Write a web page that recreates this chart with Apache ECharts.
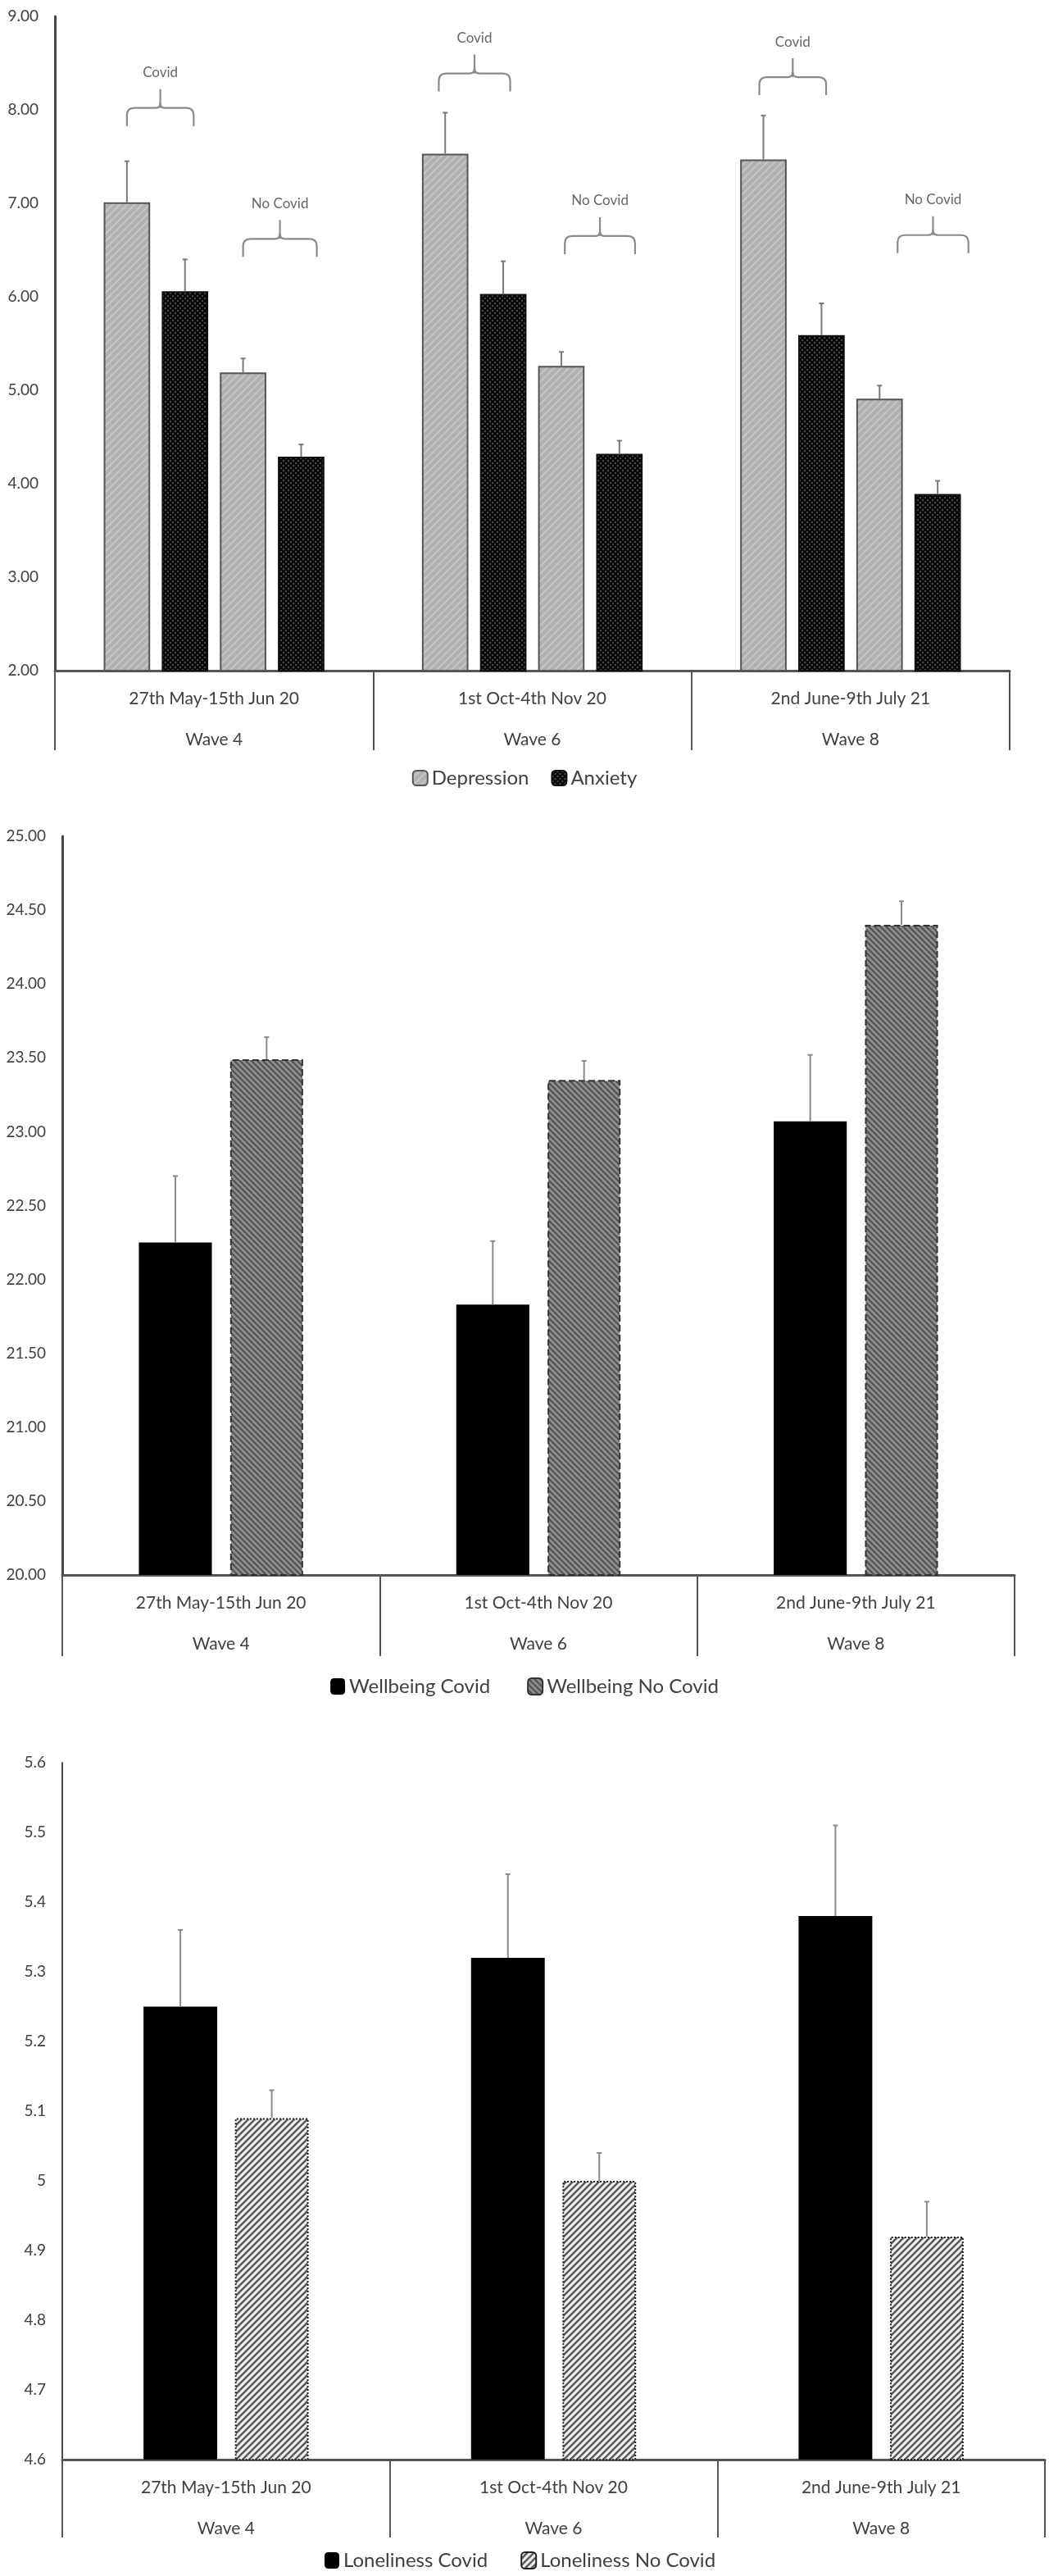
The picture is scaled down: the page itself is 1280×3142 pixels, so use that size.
<!DOCTYPE html>
<html><head><meta charset="utf-8">
<script src="https://cdn.jsdelivr.net/npm/echarts@6/dist/echarts.min.js"></script>
<style>html,body{margin:0;padding:0;background:#fff}#c{width:1280px;height:3142px}</style>
</head><body><div id="c"></div>
<script>
// ---------- data ----------
const waveDates = ['27th May-15th Jun 20', '1st Oct-4th Nov 20', '2nd June-9th July 21'];
const waveNames = ['Wave 4', 'Wave 6', 'Wave 8'];

// Panel 1: depression / anxiety
const depCovid      = [7.01, 7.53, 7.47];
const depCovidErr   = [7.45, 7.97, 7.94];
const anxCovid      = [6.06, 6.03, 5.59];
const anxCovidErr   = [6.40, 6.38, 5.93];
const depNoCovid    = [5.19, 5.26, 4.91];
const depNoCovidErr = [5.34, 5.41, 5.05];
const anxNoCovid    = [4.29, 4.32, 3.89];
const anxNoCovidErr = [4.42, 4.46, 4.03];
const yTicks1 = [2, 3, 4, 5, 6, 7, 8, 9];

// brackets over panel 1
const bracketLabels = ['Covid', 'No Covid', 'Covid', 'No Covid', 'Covid', 'No Covid'];
const bracketWave   = [0, 0, 1, 1, 2, 2];
const bracketLevel  = [8.02, 6.62, 8.39, 6.65, 8.35, 6.66];
const bracketSlots  = [[0, 1.15], [2.0, 3.27], [-0.11, 1.12], [2.06, 3.27], [-0.07, 1.08], [2.31, 3.53]];

// Panel 2: wellbeing
const wbCovid      = [22.25, 21.83, 23.07];
const wbCovidErr   = [22.70, 22.26, 23.52];
const wbNoCovid    = [23.49, 23.35, 24.40];
const wbNoCovidErr = [23.64, 23.48, 24.56];
const yTicks2 = [20, 20.5, 21, 21.5, 22, 22.5, 23, 23.5, 24, 24.5, 25];

// Panel 3: loneliness
const loCovid      = [5.25, 5.32, 5.38];
const loCovidErr   = [5.36, 5.44, 5.51];
const loNoCovid    = [5.09, 5.00, 4.92];
const loNoCovidErr = [5.13, 5.04, 4.97];
const yTicks3 = [4.6, 4.7, 4.8, 4.9, 5, 5.1, 5.2, 5.3, 5.4, 5.5, 5.6];

// ---------- styles ----------
const FONT = 'Lato, "Liberation Sans", sans-serif';
const TXT = '#404040';

function hatch(size, bg, fg, lw, dir) {
  const c = document.createElement('canvas');
  c.width = c.height = size;
  const g = c.getContext('2d');
  g.fillStyle = bg; g.fillRect(0, 0, size, size);
  g.strokeStyle = fg; g.lineWidth = lw; g.beginPath();
  if (dir === '/') {
    g.moveTo(0, size); g.lineTo(size, 0);
    g.moveTo(-2, 2); g.lineTo(2, -2);
    g.moveTo(size - 2, size + 2); g.lineTo(size + 2, size - 2);
  } else {
    g.moveTo(0, 0); g.lineTo(size, size);
    g.moveTo(size - 2, -2); g.lineTo(size + 2, 2);
    g.moveTo(-2, size - 2); g.lineTo(2, size + 2);
  }
  g.stroke();
  return { image: c, repeat: 'repeat' };
}
function dots(size, bg, fg) {
  const c = document.createElement('canvas');
  c.width = c.height = size;
  const g = c.getContext('2d');
  g.fillStyle = bg; g.fillRect(0, 0, size, size);
  g.fillStyle = fg;
  g.fillRect(0, 0, 2, 2);
  g.fillRect(size / 2, size / 2, 2, 2);
  return { image: c, repeat: 'repeat' };
}
const depPat = hatch(9, '#b2b2b2', '#c9c9c9', 1.6, '/');
const anxPat = dots(6, '#080808', '#4a4a4a');
const wbPat = hatch(7, '#8c8c8c', '#505050', 2, '\\');
const loPat = hatch(8, '#f2f2f2', '#5a5a5a', 2.6, '/');

// bar layout fractions per panel
const BW = [0.146, 0.23, 0.225];
const GAP = [0.25, 0.25, 0.24];

function xAx(gi, tickLen) {
  return {
    type: 'category', gridIndex: gi, data: waveDates,
    axisLine: { show: true, lineStyle: { color: '#555', width: 3 } },
    axisTick: { show: true, interval: 0, length: tickLen, lineStyle: { color: '#555', width: 2 } },
    splitLine: { show: false },
    axisLabel: {
      interval: 0, margin: 9,
      formatter: (v, i) => '{d|' + v + '}\n{w|' + waveNames[i] + '}',
      rich: {
        d: { fontSize: 21, lineHeight: 50, color: TXT, fontFamily: FONT },
        w: { fontSize: 21, lineHeight: 50, color: TXT, fontFamily: FONT }
      }
    }
  };
}
function yAx(gi, ticks, fmt, lw) {
  return {
    type: 'value', gridIndex: gi,
    min: ticks[0], max: ticks[ticks.length - 1], interval: +(ticks[1] - ticks[0]).toFixed(2),
    axisLine: { show: true, lineStyle: { color: '#454545', width: lw } },
    axisTick: { show: false }, splitLine: { show: false },
    axisLabel: { margin: 20, fontSize: 19, color: TXT, fontFamily: FONT, formatter: fmt }
  };
}

function errSeries(gi, k, n, vals, tops, color) {
  return {
    type: 'custom', xAxisIndex: gi, yAxisIndex: gi, z: 5, silent: true,
    data: vals.map((v, i) => [i, v, tops[i]]),
    renderItem: (params, api) => {
      const band = api.size([1, 0])[0];
      const w = band * BW[gi];
      const step = w * (1 + GAP[gi]);
      const off = (k - (n - 1) / 2) * step;
      const p0 = api.coord([api.value(0), api.value(1)]);
      const p1 = api.coord([api.value(0), api.value(2)]);
      const x = p0[0] + off;
      const st = { stroke: color, lineWidth: 2 };
      return {
        type: 'group', children: [
          { type: 'line', shape: { x1: x, y1: p0[1], x2: x, y2: p1[1] }, style: st },
          { type: 'line', shape: { x1: x - 3, y1: p1[1], x2: x + 3, y2: p1[1] }, style: st }
        ]
      };
    }
  };
}

function bar(name, gi, data, style) {
  return {
    name, type: 'bar', xAxisIndex: gi, yAxisIndex: gi, data,
    barWidth: (BW[gi] * 100) + '%', barGap: (GAP[gi] * 100) + '%',
    itemStyle: style, emphasis: { disabled: true }
  };
}

const bracketSeries = {
  type: 'custom', xAxisIndex: 0, yAxisIndex: 0, z: 6, silent: true,
  data: bracketWave.map((w, i) => [w, bracketLevel[i]]),
  renderItem: (params, api) => {
    const i = params.dataIndex;
    const band = api.size([1, 0])[0];
    const step = band * BW[0] * (1 + GAP[0]);
    const c = api.coord([api.value(0), api.value(1)]);
    const x1 = c[0] + (bracketSlots[i][0] - 1.5) * step;
    const x2 = c[0] + (bracketSlots[i][1] - 1.5) * step;
    const xm = (x1 + x2) / 2;
    const y = c[1], d = 22, r = 9, s = 23;
    const path = 'M' + x1 + ',' + (y + d) + ' L' + x1 + ',' + (y + r) + ' Q' + x1 + ',' + y + ' ' + (x1 + r) + ',' + y +
      ' L' + (xm - 6) + ',' + y + ' Q' + xm + ',' + y + ' ' + xm + ',' + (y - 6) +
      ' Q' + xm + ',' + y + ' ' + (xm + 6) + ',' + y +
      ' L' + (x2 - r) + ',' + y + ' Q' + x2 + ',' + y + ' ' + x2 + ',' + (y + r) + ' L' + x2 + ',' + (y + d);
    return {
      type: 'group', children: [
        { type: 'path', shape: { pathData: path }, style: { stroke: '#8a8a8a', lineWidth: 2.2, fill: null } },
        { type: 'line', shape: { x1: xm, y1: y, x2: xm, y2: y - s }, style: { stroke: '#8a8a8a', lineWidth: 2.2 } },
        { type: 'text', x: xm, y: y - s - 20, style: { text: bracketLabels[i], fill: '#666', font: '17px ' + FONT, align: 'center', verticalAlign: 'middle' } }
      ]
    };
  }
};

const legendText = { fontSize: 24, color: TXT, fontFamily: FONT };

const option = {
  animation: false,
  backgroundColor: '#fff',
  grid: [
    { left: 67, top: 20, width: 1165, height: 798, containLabel: false, outerBoundsMode: 'none' },
    { left: 76, top: 1020, width: 1162, height: 901, containLabel: false, outerBoundsMode: 'none' },
    { left: 76, top: 2150, width: 1199, height: 850, containLabel: false, outerBoundsMode: 'none' }
  ],
  xAxis: [xAx(0, 97), xAx(1, 99), xAx(2, 95)],
  yAxis: [
    yAx(0, yTicks1, v => v.toFixed(2), 3),
    yAx(1, yTicks2, v => v.toFixed(2), 3),
    yAx(2, yTicks3, v => String(+v.toFixed(1)), 2)
  ],
  legend: [
    { data: ['Depression', 'Anxiety'], top: 932, left: 'center', itemWidth: 18, itemHeight: 18, itemGap: 27, textStyle: legendText, selectedMode: false },
    { data: ['Wellbeing Covid', 'Wellbeing No Covid'], top: 2040, left: 'center', itemWidth: 18, itemHeight: 20, itemGap: 45, textStyle: legendText, selectedMode: false },
    { data: ['Loneliness Covid', 'Loneliness No Covid'], top: 3106, left: 391, itemWidth: 18, itemHeight: 20, itemGap: 40, textStyle: legendText, selectedMode: false }
  ],
  series: [
    bar('Depression', 0, depCovid, { color: depPat, borderColor: '#555', borderWidth: 2 }),
    bar('Anxiety', 0, anxCovid, { color: anxPat, borderColor: '#111', borderWidth: 2 }),
    bar('Depression', 0, depNoCovid, { color: depPat, borderColor: '#555', borderWidth: 2 }),
    bar('Anxiety', 0, anxNoCovid, { color: anxPat, borderColor: '#111', borderWidth: 2 }),
    errSeries(0, 0, 4, depCovid, depCovidErr, '#7a7a7a'),
    errSeries(0, 1, 4, anxCovid, anxCovidErr, '#7a7a7a'),
    errSeries(0, 2, 4, depNoCovid, depNoCovidErr, '#7a7a7a'),
    errSeries(0, 3, 4, anxNoCovid, anxNoCovidErr, '#7a7a7a'),
    bracketSeries,

    bar('Wellbeing Covid', 1, wbCovid, { color: '#000' }),
    bar('Wellbeing No Covid', 1, wbNoCovid, { color: wbPat, borderColor: '#333', borderWidth: 2, borderType: 'dashed' }),
    errSeries(1, 0, 2, wbCovid, wbCovidErr, '#8a8a8a'),
    errSeries(1, 1, 2, wbNoCovid, wbNoCovidErr, '#8a8a8a'),

    bar('Loneliness Covid', 2, loCovid, { color: '#000' }),
    bar('Loneliness No Covid', 2, loNoCovid, { color: loPat, borderColor: '#222', borderWidth: 2, borderType: 'dotted' }),
    errSeries(2, 0, 2, loCovid, loCovidErr, '#8a8a8a'),
    errSeries(2, 1, 2, loNoCovid, loNoCovidErr, '#8a8a8a')
  ]
};

const chart = echarts.init(document.getElementById('c'), null, { renderer: 'canvas' });
chart.setOption(option);
</script>
</body></html>
